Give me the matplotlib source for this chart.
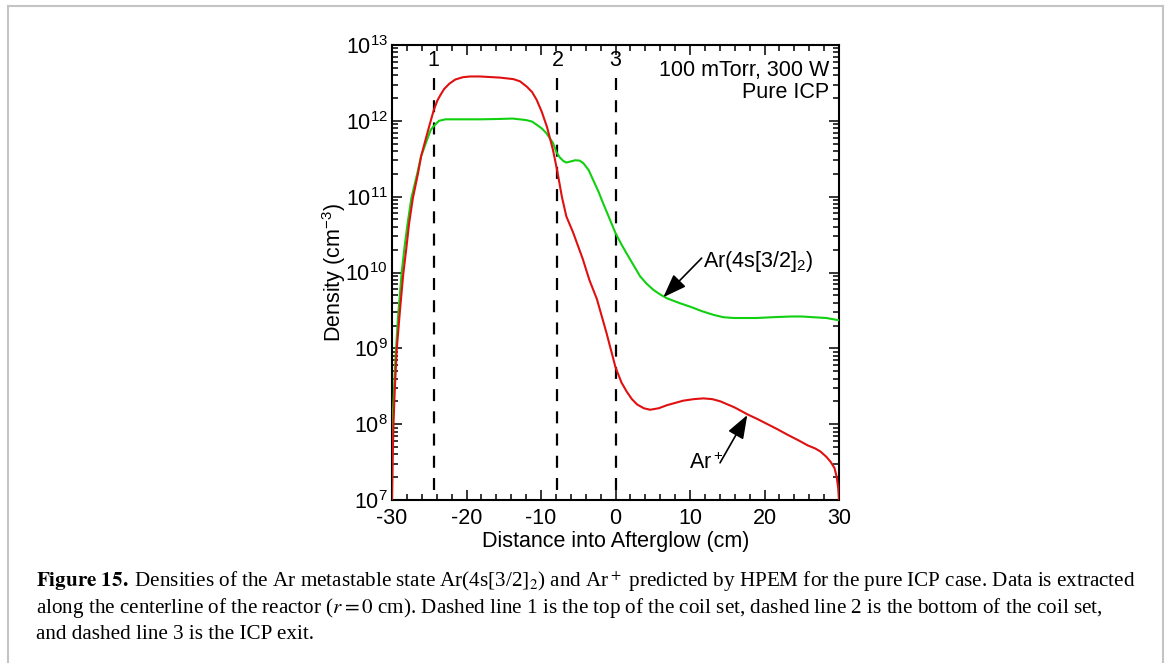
import matplotlib
matplotlib.use("Agg")
import matplotlib.pyplot as plt
from matplotlib.ticker import MultipleLocator, LogLocator, NullFormatter
from matplotlib.lines import Line2D
import numpy as np

plt.rcParams['font.family'] = ['Liberation Sans', 'DejaVu Sans']
plt.rcParams['mathtext.fontset'] = 'custom'
plt.rcParams['mathtext.rm'] = 'Liberation Sans'
plt.rcParams['mathtext.it'] = 'Liberation Sans:italic'
plt.rcParams['mathtext.bf'] = 'Liberation Sans:bold'
plt.rcParams['axes.unicode_minus'] = False

# ---------------- data (log10 of density in cm^-3) ----------------
x_ion = [-30, -29.92, -29.8, -29.65, -29.37, -28.93, -28.5, -28.1, -27.7, -27.2,
         -26.5, -26.1, -25.5, -25.0, -24.4, -23.9, -23.5, -23.0, -22.3, -21.5,
         -20.5, -19.5, -18.2, -15.5, -13.7, -12.8, -11.9, -11.2, -10.6, -9.9,
         -9.2, -8.4, -7.8, -7.2, -6.6, -5.7, -4.4, -3.5, -2.5, -1.2,
         0.0, 0.8, 1.5, 2.2, 2.9, 3.8, 4.65, 5.8, 6.9, 8.0,
         9.1, 10.5, 11.8, 13.0, 14.1, 16.0, 17.7, 19.0, 20.4, 21.8,
         23.1, 24.5, 25.8, 26.8, 27.5, 28.3, 28.9, 29.4, 29.7, 29.9, 30.0]
log_ion = [7.0, 7.5, 8.0, 8.4, 8.98, 9.5, 9.97, 10.3, 10.65, 10.98,
           11.31, 11.53, 11.75, 11.93, 12.14, 12.27, 12.34, 12.42, 12.49, 12.545,
           12.575, 12.585, 12.585, 12.57, 12.55, 12.52, 12.45, 12.38, 12.28, 12.12,
           11.92, 11.62, 11.33, 11.0, 10.74, 10.53, 10.18, 9.9, 9.65, 9.2,
           8.75, 8.55, 8.43, 8.33, 8.26, 8.21, 8.19, 8.21, 8.25, 8.28,
           8.31, 8.33, 8.34, 8.33, 8.30, 8.22, 8.13, 8.07, 8.0, 7.93,
           7.86, 7.79, 7.72, 7.68, 7.64, 7.57, 7.50, 7.42, 7.3, 7.15, 7.0]

x_met = [-30, -29.97, -29.85, -29.6, -29.2, -28.7, -28.3, -27.9, -27.4, -26.6,
         -26.1, -25.3, -24.8, -24.4, -23.7, -22.8, -21.5, -20.5, -18.0, -15.5,
         -13.8, -12.0, -11.2, -10.6, -9.9, -9.3, -8.4, -7.9, -7.5, -7.0,
         -6.6, -6.0, -5.4, -4.8, -4.3, -3.6, -3.0, -2.3, -1.65, -0.8,
         0.0, 0.8, 1.5, 2.4, 3.3, 4.2, 5.1, 6.0, 6.9, 8.5,
         10.0, 11.6, 13.2, 14.5, 15.9, 17.5, 19.0, 21.0, 23.6, 25.0,
         26.6, 28.3, 30.0]
log_met = [7.0, 7.6, 8.2, 8.76, 9.4, 10.0, 10.35, 10.65, 10.98, 11.31,
           11.53, 11.75, 11.88, 11.93, 12.0, 12.02, 12.02, 12.02, 12.02, 12.025,
           12.03, 12.01, 11.99, 11.95, 11.9, 11.84, 11.71, 11.58, 11.52, 11.47,
           11.45, 11.465, 11.48, 11.475, 11.44, 11.35, 11.22, 11.07, 10.91, 10.71,
           10.52, 10.37, 10.25, 10.1, 9.95, 9.85, 9.77, 9.71, 9.66, 9.60,
           9.55, 9.49, 9.44, 9.41, 9.40, 9.40, 9.40, 9.41, 9.42, 9.42,
           9.41, 9.40, 9.37]

dashed_x = [-24.4, -7.8, 0.0]
dashed_labels = ['1', '2', '3']

x_ticks = [-30, -20, -10, 0, 10, 20, 30]
y_lim = [1e7, 1e13]

caption_lines = [
    r'$\mathbf{Figure\ 15.}\;$Densities of the Ar metastable state Ar(4s[3/2]$_2$) and Ar$^+$ '
    'predicted by HPEM for the pure ICP case. Data is extracted',
    'along the centerline of the reactor ($r = 0$ cm). Dashed line 1 is the top of the coil '
    'set, dashed line 2 is the bottom of the coil set,',
    'and dashed line 3 is the ICP exit.',
]

# ---------------- figure ----------------
W, H = 1167, 663
fig = plt.figure(figsize=(W/100, H/100), dpi=100)
ax = fig.add_axes([392/W, 1-500/H, 447/W, 455/H])

red = '#e01010'
green = '#10d010'
ax.plot(x_met, 10**np.array(log_met), color=green, lw=1.5, zorder=3)
ax.plot(x_ion, 10**np.array(log_ion), color=red, lw=1.5, zorder=4)

for xd, lab in zip(dashed_x, dashed_labels):
    ax.plot([xd, xd], [10**12.56, 1e7], color='black', lw=1.6,
            linestyle=(0, (5.4, 4.6)), zorder=2)
    ax.text(xd, 10**12.80, lab, ha='center', va='center', fontsize=15.5)

ax.set_xlim(-30, 30)
ax.set_ylim(*y_lim)
ax.set_yscale('log')
ax.set_xticks(x_ticks)
ax.xaxis.set_minor_locator(MultipleLocator(2))
ax.yaxis.set_major_locator(LogLocator(base=10, numticks=20))
ax.yaxis.set_minor_locator(LogLocator(base=10, subs=np.arange(2, 10), numticks=100))
ax.yaxis.set_minor_formatter(NullFormatter())

ax.tick_params(which='both', direction='in', top=True, right=True, labelsize=15.5, width=1.1)
ax.tick_params(which='major', length=7)
ax.tick_params(axis='y', which='major', pad=3)
ax.tick_params(axis='x', which='major', pad=6)
ax.tick_params(which='minor', length=4.5)
for s in ax.spines.values():
    s.set_linewidth(1.5)

ax.set_xlabel('Distance into Afterglow (cm)', fontsize=15.5, labelpad=1)
ax.set_ylabel('Density (cm$^{-3}$)', fontsize=15.5)
ax.yaxis.set_label_coords(-0.099, 0.5)

ax.text(28.7, 10**12.67, '100 mTorr, 300 W', ha='right', va='center', fontsize=15.5)
ax.text(28.7, 10**12.37, 'Pure ICP', ha='right', va='center', fontsize=15.5)

arrow_kw = dict(arrowstyle='-|>,head_length=0.6,head_width=0.22', color='black',
                lw=1.2, shrinkA=0, shrinkB=0, mutation_scale=24)
ax.annotate('', xy=(6.42, 10**9.674), xytext=(11.57, 10**10.19), arrowprops=arrow_kw)
ax.text(11.7, 10**10.14, 'Ar(4s[3/2]$_2$)', ha='left', va='center', fontsize=15.5)
ax.annotate('', xy=(17.69, 10**8.12), xytext=(14.03, 10**7.49), arrowprops=arrow_kw)
ax.text(14.4, 10**7.49, 'Ar$^+$', ha='right', va='center', fontsize=15.5)

# ---------------- caption ----------------
cap_fs = 15.2
serif = ['Liberation Serif', 'DejaVu Serif']
for i, line in enumerate(caption_lines):
    fig.text(36/W, 1-(587+26*i)/H, line, fontsize=cap_fs, family=serif,
             va='baseline', ha='left', math_fontfamily='stix')

# ---------------- border ----------------
bc = '#c4c4c4'
fig.add_artist(Line2D([7.5/W, 7.5/W], [0, 1-5.5/H], color=bc, lw=1.5))
fig.add_artist(Line2D([7.5/W, 1162.5/W], [1-5.5/H, 1-5.5/H], color=bc, lw=1.5))
fig.add_artist(Line2D([1162.5/W, 1162.5/W], [0, 1-5.5/H], color=bc, lw=1.5))

fig.savefig('out.png', dpi=100)
